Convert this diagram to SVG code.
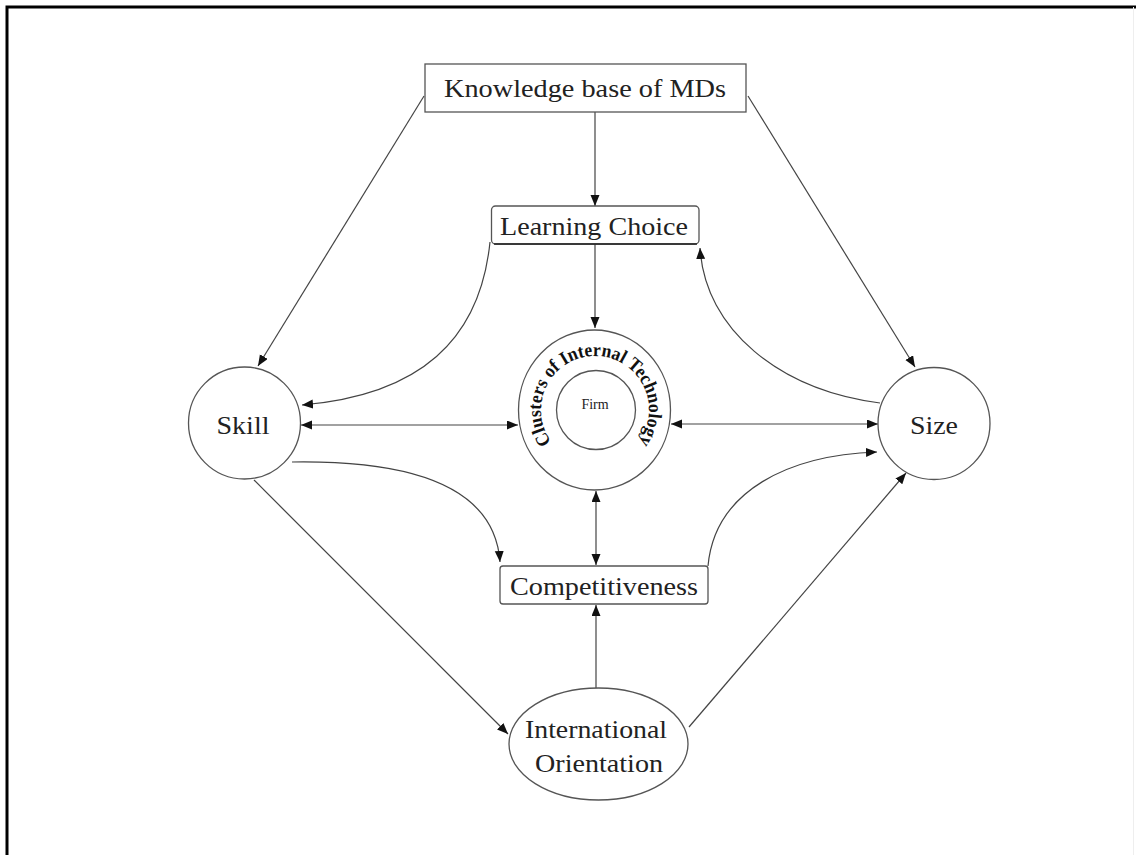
<svg xmlns="http://www.w3.org/2000/svg" width="1136" height="855" viewBox="0 0 1136 855">
<style>
.n{fill:#fff;stroke:#555;stroke-width:1.3}
.t{font-family:"Liberation Serif","Times New Roman",serif;font-size:26px;fill:#222;text-anchor:middle}
.c{fill:none;stroke:#444;stroke-width:1.2}
</style>
<defs>
<marker id="a" markerUnits="userSpaceOnUse" markerWidth="12" markerHeight="10" refX="11" refY="4.5" orient="auto-start-reverse">
<path d="M0,0 L11,4.5 L0,9 z" fill="#111"/>
</marker>
<path id="arc" d="M550.8,441 A54,54 0 1 1 639.2,441"/>
</defs>
<rect x="0" y="0" width="1136" height="855" fill="#fff"/>
<path d="M7,855 V7 H1136" fill="none" stroke="#000" stroke-width="3"/>
<line x1="1133.5" y1="7" x2="1133.5" y2="855" stroke="#eee" stroke-width="1"/>

<g id="connectors">
<line class="c" x1="595" y1="112" x2="595" y2="206" marker-end="url(#a)"/>
<line class="c" x1="595" y1="244" x2="595" y2="328" marker-end="url(#a)"/>
<line class="c" x1="424" y1="96" x2="258" y2="366" marker-end="url(#a)"/>
<line class="c" x1="748" y1="96" x2="915" y2="367" marker-end="url(#a)"/>
<path class="c" d="M490,242 C480,340 420,395 302,405" marker-end="url(#a)"/>
<line class="c" x1="301" y1="425" x2="518" y2="425" marker-start="url(#a)" marker-end="url(#a)"/>
<line class="c" x1="671" y1="424" x2="878" y2="424" marker-start="url(#a)" marker-end="url(#a)"/>
<path class="c" d="M880,403 C780,390 705,330 700,248" marker-end="url(#a)"/>
<path class="c" d="M292,462 C420,460 495,490 500,562" marker-end="url(#a)"/>
<line class="c" x1="596" y1="491" x2="596" y2="565" marker-start="url(#a)" marker-end="url(#a)"/>
<path class="c" d="M708,566 C715,490 790,455 877,452" marker-end="url(#a)"/>
<line class="c" x1="596" y1="688" x2="596" y2="605" marker-end="url(#a)"/>
<line class="c" x1="254" y1="480" x2="508" y2="734" marker-end="url(#a)"/>
<line class="c" x1="689" y1="727" x2="906" y2="473" marker-end="url(#a)"/>
</g>

<g id="knowledge">
<rect class="n" x="425" y="64" width="321" height="48"/>
<text class="t" x="585" y="97" textLength="282" lengthAdjust="spacingAndGlyphs">Knowledge base of MDs</text>
</g>
<g id="learning">
<rect class="n" x="491.5" y="206" width="207.5" height="38" rx="4"/>
<line x1="494" y1="244" x2="697" y2="244" stroke="#222" stroke-width="1.6"/>
<text class="t" x="594" y="235" textLength="188" lengthAdjust="spacingAndGlyphs">Learning Choice</text>
</g>
<g id="clusters">
<ellipse class="n" cx="594.5" cy="410" rx="76" ry="80"/>
<circle class="n" cx="596" cy="410" r="39.5"/>
<text font-family="Liberation Serif, Times New Roman, serif" font-size="19" font-weight="bold" fill="#111" text-anchor="middle"><textPath href="#arc" startOffset="50%" textLength="238" lengthAdjust="spacingAndGlyphs">Clusters of Internal Technology</textPath></text>
<text x="595" y="409" font-family="Liberation Serif, Times New Roman, serif" font-size="14" fill="#222" text-anchor="middle">Firm</text>
</g>
<g id="skill">
<circle class="n" cx="244.5" cy="423" r="56"/>
<text class="t" x="243" y="434" textLength="53" lengthAdjust="spacingAndGlyphs">Skill</text>
</g>
<g id="size">
<circle class="n" cx="934" cy="423.5" r="56"/>
<text class="t" x="934" y="434" textLength="48" lengthAdjust="spacingAndGlyphs">Size</text>
</g>
<g id="competitiveness">
<rect class="n" x="500" y="566" width="208" height="38" rx="3"/>
<text class="t" x="604" y="595" textLength="188" lengthAdjust="spacingAndGlyphs">Competitiveness</text>
</g>
<g id="international">
<ellipse class="n" cx="598.5" cy="744" rx="89.5" ry="56"/>
<text class="t" x="596" y="738" textLength="142" lengthAdjust="spacingAndGlyphs">International</text>
<text class="t" x="599" y="772" textLength="128" lengthAdjust="spacingAndGlyphs">Orientation</text>
</g>
</svg>
